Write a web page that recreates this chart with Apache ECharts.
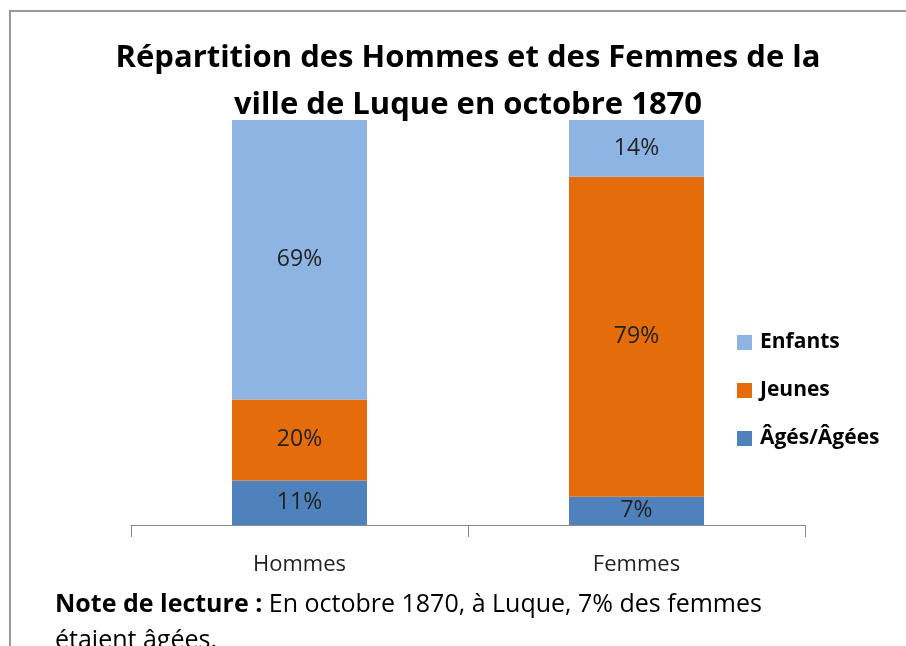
<!DOCTYPE html>
<html>
<head>
<meta charset="utf-8">
<script src="https://cdn.jsdelivr.net/npm/echarts@6/dist/echarts.min.js"></script>
<style>
  html, body { margin: 0; padding: 0; background: #fff; }
  #chart { width: 906px; height: 646px; }
</style>
</head>
<body>
<div id="chart"></div>
<script>
const categories = ['Hommes', 'Femmes'];
const ages = [11, 7];
const jeunes = [20, 79];
const enfants = [69, 14];

const font = 'Open Sans';

const chart = echarts.init(document.getElementById('chart'));

const makeSeries = (name, data, color) => ({
  name: name,
  type: 'bar',
  stack: 'total',
  barWidth: 135,
  data: data,
  itemStyle: { color: color },
  label: {
    show: true,
    position: 'inside',
    formatter: '{c}%',
    color: '#222',
    fontSize: 23,
    fontFamily: font
  }
});

chart.setOption({
  animation: false,
  title: {
    text: 'Répartition des Hommes et des Femmes de la\nville de Luque en octobre 1870',
    left: 463,
    textAlign: 'center',
    top: 30,
    textStyle: {
      fontFamily: font,
      fontWeight: 'bold',
      fontSize: 31,
      lineHeight: 47,
      color: '#000'
    }
  },
  legend: {
    orient: 'vertical',
    left: 732,
    top: 327,
    itemWidth: 15,
    itemHeight: 15,
    itemGap: 27,
    icon: 'rect',
    data: ['Enfants', 'Jeunes', 'Âgés/Âgées'],
    textStyle: {
      fontFamily: font,
      fontWeight: 'bold',
      fontSize: 21,
      color: '#000',
      padding: [0, 0, 0, 3]
    }
  },
  grid: { left: 131, right: 101, top: 120, bottom: 121 },
  xAxis: {
    type: 'category',
    data: categories,
    axisLine: { lineStyle: { color: '#888', width: 1 } },
    axisTick: { show: true, length: 12, lineStyle: { color: '#888' } },
    axisLabel: {
      margin: 29,
      fontFamily: font,
      fontSize: 22,
      color: '#222'
    }
  },
  yAxis: {
    type: 'value',
    min: 0,
    max: 100,
    show: false
  },
  series: [
    makeSeries('Âgés/Âgées', ages, '#4F81BD'),
    makeSeries('Jeunes', jeunes, '#E46C0A'),
    makeSeries('Enfants', enfants, '#8EB4E3')
  ],
  graphic: [
    {
      type: 'rect',
      shape: { x: 10, y: 11, width: 1000, height: 1000 },
      style: { fill: 'none', stroke: '#999', lineWidth: 2 },
      silent: true
    },
    {
      type: 'text',
      left: 55,
      top: 587,
      style: {
        text: '{b|Note de lecture :} En octobre 1870, à Luque, 7% des femmes\nétaient âgées.',
        fontFamily: font,
        fontSize: 25,
        lineHeight: 36,
        fill: '#000',
        rich: {
          b: { fontFamily: font, fontSize: 25, fontWeight: 'bold', fill: '#000' }
        }
      }
    }
  ]
});
</script>
</body>
</html>
